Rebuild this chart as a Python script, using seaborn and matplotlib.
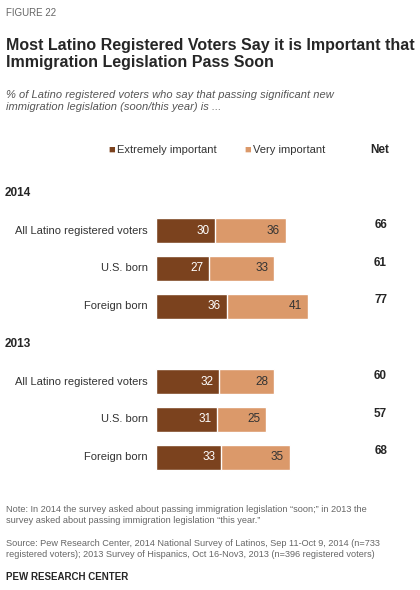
import matplotlib
matplotlib.use("Agg")
import matplotlib.pyplot as plt
import seaborn as sns
import pandas as pd

years = ["2014", "2013"]
groups = ["All Latino registered voters", "U.S. born", "Foreign born"]
extremely = {"2014": [30, 27, 36], "2013": [32, 31, 33]}
very = {"2014": [36, 33, 41], "2013": [28, 25, 35]}
net = {"2014": [66, 61, 77], "2013": [60, 57, 68]}

dark = "#7B421E"
light = "#DB996A"

rows = []
order = []
for yr in years:
    order.append("h" + yr)
    for g, e, v, n in zip(groups, extremely[yr], very[yr], net[yr]):
        key = yr + "|" + g
        order.append(key)
        rows.append({"key": key, "year": yr, "group": g, "ext": e, "very": v, "total": e + v, "net": n})
df = pd.DataFrame(rows)

sns.set_style("white")
plt.rcParams["font.family"] = ["Liberation Sans", "DejaVu Sans"]
fig = plt.figure(figsize=(4.2, 5.9), dpi=100)
ax = fig.add_axes([156 / 420, 1 - 476 / 590, 1 - 156 / 420, 302 / 590])

sns.barplot(data=df, y="key", x="total", order=order, color=light, width=0.66,
            saturation=1, ax=ax, orient="h")
sns.barplot(data=df, y="key", x="ext", order=order, color=dark, width=0.66,
            saturation=1, ax=ax, orient="h")
ax.set_xlim(0, 134)
ax.set_xlabel("")
ax.set_ylabel("")
ax.set_xticks([])
ax.set_yticks([])
sns.despine(ax=ax, left=True, bottom=True)

for _, r in df.iterrows():
    yi = order.index(r["key"])
    ax.text(r["ext"] - 3, yi, str(r["ext"]), color="white", ha="right", va="center", fontsize=8.5)
    ax.text(r["total"] - 3, yi, str(r["very"]), color="#333333", ha="right", va="center", fontsize=8.5)
    ax.text(-4, yi, r["group"], ha="right", va="center", fontsize=8, color="#333333")
    ax.text(114, yi - 0.15, str(r["net"]), ha="center", va="center", fontsize=8.5, fontweight="bold")
for yr in years:
    yi = order.index("h" + yr)
    ax.text(-77, yi, yr, ha="left", va="center", fontsize=8.5, fontweight="bold")

fig.text(6 / 420, 1 - 13 / 590, "FIGURE 22", fontsize=7, color="#666666", va="center")
fig.text(6 / 420, 1 - 54 / 590,
         "Most Latino Registered Voters Say it is Important that\nImmigration Legislation Pass Soon",
         fontsize=11.5, fontweight="bold", va="center", linespacing=1.2)
fig.text(6 / 420, 1 - 101 / 590,
         "% of Latino registered voters who say that passing significant new\nimmigration legislation (soon/this year) is ...",
         fontsize=8, style="italic", color="#555555", va="center", linespacing=1.15)

ly = 1 - 150 / 590
fig.text(108 / 420, ly, "\u25a0", color=dark, fontsize=8, va="center")
fig.text(117 / 420, ly, "Extremely important", fontsize=8, va="center", color="#333333")
fig.text(244 / 420, ly, "\u25a0", color=light, fontsize=8, va="center")
fig.text(253 / 420, ly, "Very important", fontsize=8, va="center", color="#333333")
fig.text(380 / 420, ly, "Net", fontsize=8.5, fontweight="bold", ha="center", va="center")

fig.text(6 / 420, 1 - 515 / 590,
         "Note: In 2014 the survey asked about passing immigration legislation \u201csoon;\u201d in 2013 the\nsurvey asked about passing immigration legislation \u201cthis year.\u201d",
         fontsize=6.6, color="#666666", va="center", linespacing=1.25)
fig.text(6 / 420, 1 - 549 / 590,
         "Source: Pew Research Center, 2014 National Survey of Latinos, Sep 11-Oct 9, 2014 (n=733\nregistered voters); 2013 Survey of Hispanics, Oct 16-Nov3, 2013 (n=396 registered voters)",
         fontsize=6.6, color="#666666", va="center", linespacing=1.25)
fig.text(6 / 420, 1 - 577 / 590, "PEW RESEARCH CENTER", fontsize=7, fontweight="bold", va="center")

fig.savefig("out.png", dpi=100)
